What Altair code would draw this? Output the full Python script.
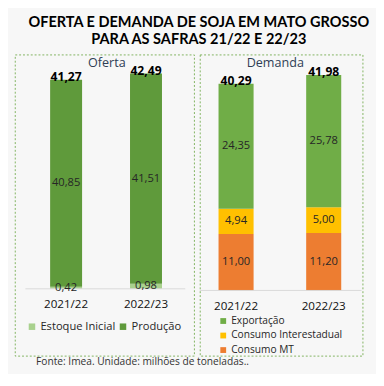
import altair as alt
import pandas as pd

FONT = "Open Sans"
TFONT = "Lato"

safras = ["2021/22", "2022/23"]

oferta_series = ["Estoque Inicial", "Produção"]
oferta_colors = ["#a9d18e", "#5f9a3b"]
estoque_inicial = [0.42, 0.98]
producao = [40.85, 41.51]
oferta_total = [41.27, 42.49]

demanda_series = ["Exportação", "Consumo Interestadual", "Consumo MT"]
demanda_colors = ["#70ad47", "#ffc000", "#ed7d31"]
consumo_mt = [11.00, 11.20]
consumo_inter = [4.94, 5.00]
exportacao = [24.35, 25.78]
demanda_total = [40.29, 41.98]

fonte = "Fonte: Imea. Unidade: milhões de toneladas.."

BOX_H = 311


def fmt(v):
    return f"{v:.2f}".replace(".", ",")


def stack_df(names, values):
    rows = []
    for i, s in enumerate(safras):
        base = 0.0
        for name, vals in zip(names, values):
            v = vals[i]
            rows.append(dict(safra=s, serie=name, start=base, end=base + v,
                             mid=base + v / 2, label=fmt(v)))
            base += v
    return pd.DataFrame(rows)


def panel(df, totals, names, colors, width, yrange, xrange, axis_offset,
          panel_label, label_x, legend, rule_x, extra=None):
    xs = alt.Scale(domain=safras, range=xrange, paddingInner=0.6, paddingOuter=0.3)
    ys = alt.Scale(domain=[0, 45], range=yrange, nice=False, zero=True)
    x = alt.X("safra:N", scale=xs,
              axis=alt.Axis(title=None, domain=False, ticks=False, tickSize=0,
                            labelAngle=0, labelFontSize=12, labelFont=FONT,
                            labelColor="#111111", labelPadding=0,
                            offset=axis_offset, grid=False))
    bars = alt.Chart(df).mark_bar().encode(
        x=x,
        y=alt.Y("start:Q", scale=ys, axis=None),
        y2="end:Q",
        color=alt.Color("serie:N", scale=alt.Scale(domain=names, range=colors),
                        legend=legend),
    )
    seg = alt.Chart(df).mark_text(fontSize=11.5, font=FONT, color="#262626",
                                  baseline="middle").encode(
        x=alt.X("safra:N"), y=alt.Y("mid:Q"), text="label:N")
    tdf = pd.DataFrame({"safra": safras, "total": totals,
                        "label": [fmt(t) for t in totals]})
    tot = alt.Chart(tdf).mark_text(fontSize=12.5, font=FONT, fontWeight="bold",
                                   color="#000000", baseline="alphabetic", dy=1).encode(
        x=alt.X("safra:N"), y=alt.Y("total:Q"), text="label:N")
    rule = alt.Chart(pd.DataFrame({"y": [0]})).mark_rule(
        color="#d9d9d9", strokeWidth=1).encode(
        y=alt.Y("y:Q"), x=alt.value(rule_x[0]), x2=alt.value(rule_x[1]))
    lab = alt.Chart(pd.DataFrame({"a": [0]})).mark_text(
        fontSize=13, font=FONT, color="#2f3e55", baseline="middle").encode(
        x=alt.value(label_x), y=alt.value(9), text=alt.value(panel_label))
    layers = [bars, rule, seg, tot, lab]
    if extra is not None:
        layers.append(extra)
    return alt.layer(*layers).properties(width=width, height=BOX_H)


oferta_df = stack_df(oferta_series, [estoque_inicial, producao])
demanda_df = stack_df(demanda_series[::-1], [consumo_mt, consumo_inter, exportacao])

left_legend = alt.Legend(title=None, orient="none", legendX=12, legendY=275,
                         direction="horizontal", symbolType="square",
                         symbolSize=45, symbolStrokeWidth=0, labelFontSize=11.5,
                         labelFont=FONT, labelColor="#262626", columnPadding=2,
                         labelOffset=3)
right_legend = alt.Legend(title=None, orient="none", legendX=19, legendY=270,
                          direction="vertical", symbolType="square",
                          symbolSize=36, symbolStrokeWidth=0, labelFontSize=10.5,
                          labelFont=FONT, labelColor="#262626", rowPadding=4,
                          labelOffset=3)

foot = alt.Chart(pd.DataFrame({"a": [0]})).mark_text(
    fontSize=10.5, font=FONT, color="#333333", align="left",
    baseline="alphabetic").encode(
    x=alt.value(22), y=alt.value(BOX_H + 10), text=alt.value(fonte))

left = panel(oferta_df, oferta_total, oferta_series, oferta_colors, 185,
             [242, 242 - 45 * 5.23], [11.75, 176.75], 252 - BOX_H, "Oferta", 95,
             left_legend, (11, 176), extra=foot)
right = panel(demanda_df, demanda_total, demanda_series, demanda_colors, 168,
              [243.7, 243.7 - 45 * 5.3], [-7.75, 173.25], 254 - BOX_H, "Demanda", 78,
              right_legend, (0, 167))

chart = alt.hconcat(left, right, spacing=6, bounds="flush").resolve_scale(
    color="independent").properties(
    title=alt.TitleParams(["OFERTA E DEMANDA DE SOJA EM MATO GROSSO",
                           "PARA AS SAFRAS 21/22 E 22/23"],
                          anchor="middle", fontSize=15, fontWeight="bold",
                          font=TFONT, color="#000000", lineHeight=18, offset=7,
                          dx=4),
    padding={"left": 6, "top": 1, "right": 0, "bottom": 0},
    background="#f7f7f7",
).configure_view(stroke="#7fb25e", strokeDash=[2, 2], strokeWidth=1)

chart.save("out.html", embed_options={"renderer": "svg", "actions": False})
